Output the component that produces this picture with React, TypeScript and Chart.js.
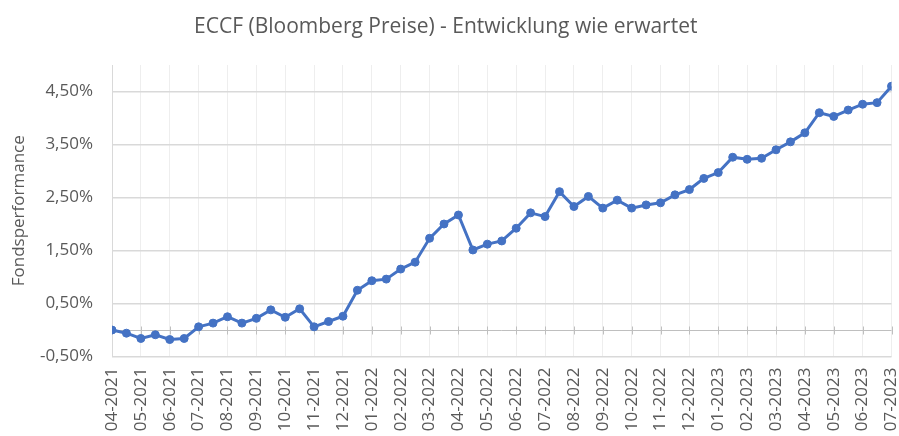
import React, { useEffect, useRef } from "react";
import { Chart, registerables } from "chart.js";

Chart.register(...registerables);

const TITLE = "ECCF (Bloomberg Preise) - Entwicklung wie erwartet";
const Y_TITLE = "Fondsperformance";

const monthLabels = [
  "04-2021", "05-2021", "06-2021", "07-2021", "08-2021", "09-2021", "10-2021",
  "11-2021", "12-2021", "01-2022", "02-2022", "03-2022", "04-2022", "05-2022",
  "06-2022", "07-2022", "08-2022", "09-2022", "10-2022", "11-2022", "12-2022",
  "01-2023", "02-2023", "03-2023", "04-2023", "05-2023", "06-2023", "07-2023",
];

// semi-monthly observations (two per month), in percent
const performance = [
  0.0, -0.06, -0.16, -0.09, -0.18, -0.16, 0.06, 0.13, 0.25, 0.13,
  0.22, 0.38, 0.24, 0.4, 0.06, 0.16, 0.26, 0.75, 0.93, 0.96,
  1.15, 1.28, 1.73, 2.0, 2.17, 1.51, 1.62, 1.68, 1.92, 2.21,
  2.14, 2.61, 2.33, 2.52, 2.3, 2.45, 2.3, 2.36, 2.4, 2.55,
  2.65, 2.86, 2.97, 3.26, 3.22, 3.24, 3.4, 3.55, 3.72, 4.1,
  4.03, 4.15, 4.26, 4.29, 4.6,
];

const yTickValues = [-0.5, 0.5, 1.5, 2.5, 3.5, 4.5];
const Y_MIN = -0.5;
const Y_MAX = 5.0;
const POINTS_PER_MONTH = 2;

const FONT = "'Open Sans', 'Liberation Sans', sans-serif";
const TEXT = "#595959";
const BLUE = "#4472C4";

const zeroLinePlugin = {
  id: "zeroLine",
  beforeDatasetsDraw(chart: any) {
    const { ctx, scales } = chart;
    const x = scales.x;
    const y = scales.y;
    const y0 = Math.round(y.getPixelForValue(0)) + 0.5;
    ctx.save();
    ctx.strokeStyle = "#bfbfbf";
    ctx.lineWidth = 1;
    ctx.beginPath();
    ctx.moveTo(x.left, y0);
    ctx.lineTo(x.right, y0);
    monthLabels.forEach((_, i) => {
      const px = Math.round(x.getPixelForValue(i * POINTS_PER_MONTH)) + 0.5;
      ctx.moveTo(px, y0 - 4);
      ctx.lineTo(px, y0 + 4);
    });
    ctx.stroke();
    ctx.restore();
  },
};

export default function App() {
  const ref = useRef<HTMLCanvasElement | null>(null);

  useEffect(() => {
    document.body.style.margin = "0";
    const canvas = ref.current;
    if (!canvas) return;
    const chart = new Chart(canvas, {
      type: "line",
      data: {
        datasets: [
          {
            label: "Fondsperformance",
            data: performance.map((v, i) => ({ x: i, y: v })),
            borderColor: BLUE,
            backgroundColor: BLUE,
            borderWidth: 3,
            pointRadius: 4,
            pointBorderWidth: 1,
            pointBackgroundColor: BLUE,
            pointBorderColor: BLUE,
            tension: 0,
          },
        ],
      },
      plugins: [zeroLinePlugin],
      options: {
        animation: false,
        responsive: false,
        maintainAspectRatio: false,
        layout: { padding: { left: 0, right: 7.5, top: 0, bottom: 0 } },
        plugins: {
          legend: { display: false },
          tooltip: { enabled: false },
          title: {
            display: true,
            text: TITLE,
            color: TEXT,
            font: { family: FONT, size: 21, weight: "normal" },
            padding: { top: 14, bottom: 25.8 },
          },
        },
        scales: {
          x: {
            type: "linear",
            min: 0,
            max: (monthLabels.length - 1) * POINTS_PER_MONTH,
            afterBuildTicks: (scale: any) => {
              scale.ticks = monthLabels.map((_, i) => ({ value: i * POINTS_PER_MONTH }));
            },
            afterFit: (scale: any) => {
              scale.height = 79.5;
              scale.paddingLeft = 0;
              scale.paddingRight = 0;
            },
            grid: { color: "#eeeeee", drawTicks: false, lineWidth: 1 },
            border: { display: false },
            ticks: {
              autoSkip: false,
              maxRotation: 90,
              minRotation: 90,
              padding: 11,
              color: TEXT,
              font: { family: FONT, size: 17 },
              callback: (v: any) => monthLabels[Math.round(Number(v) / POINTS_PER_MONTH)] ?? "",
            },
          },
          y: {
            type: "linear",
            min: Y_MIN,
            max: Y_MAX,
            afterBuildTicks: (scale: any) => {
              scale.ticks = yTickValues.map((v) => ({ value: v }));
            },
            afterFit: (scale: any) => {
              scale.width = 112;
              scale.paddingTop = 0;
              scale.paddingBottom = 0;
            },
            grid: { color: "#d9d9d9", drawTicks: false, lineWidth: 1.5 },
            border: { display: true, color: "#d9d9d9", width: 1 },
            ticks: {
              padding: 19,
              color: TEXT,
              font: { family: FONT, size: 17 },
              callback: (v: any) => Number(v).toFixed(2).replace(".", ",") + "%",
            },
            title: {
              display: true,
              text: Y_TITLE,
              color: TEXT,
              font: { family: FONT, size: 17 },
              padding: { top: 9, bottom: 0 },
            },
          },
        },
      },
    } as any);
    return () => chart.destroy();
  }, []);

  return (
    <div style={{ width: 899, height: 436, background: "#fff" }}>
      <canvas ref={ref} width={899} height={436} style={{ display: "block" }} />
    </div>
  );
}
